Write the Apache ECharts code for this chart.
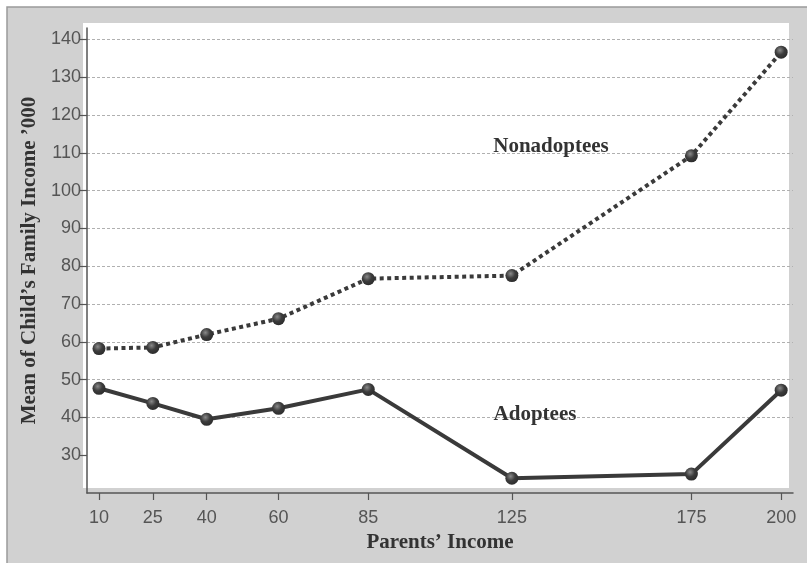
<!DOCTYPE html>
<html>
<head>
<meta charset="utf-8">
<script src="https://cdn.jsdelivr.net/npm/echarts@6/dist/echarts.min.js"></script>
<style>html,body{margin:0;padding:0;background:#fff;}#c{width:807px;height:563px;}</style>
</head>
<body>
<div id="c"></div>
<script>
const parentsIncome = [10, 25, 40, 60, 85, 125, 175, 200];
const nonadoptees = [58.2, 58.5, 61.9, 66.1, 76.7, 77.5, 109.2, 136.6];
const adoptees = [47.7, 43.7, 39.5, 42.4, 47.4, 23.9, 25.0, 47.2];
const yTicks = [30, 40, 50, 60, 70, 80, 90, 100, 110, 120, 130, 140];
const xTicks = [10, 25, 40, 60, 85, 125, 175, 200];

const chart = echarts.init(document.getElementById('c'));
const serif = '"Liberation Serif", "DejaVu Serif", serif';
const sans = '"Liberation Sans", Arial, sans-serif';
const lineColor = '#3a3a3a';
const marker = {
  type: 'radial', x: 0.4, y: 0.35, r: 0.7,
  colorStops: [{offset: 0, color: '#8a8a8a'}, {offset: 0.5, color: '#3c3c3c'}, {offset: 1, color: '#2a2a2a'}]
};

chart.setOption({
  animation: false,
  backgroundColor: '#ffffff',
  graphic: [
    {type: 'rect', z: -100, shape: {x: 7, y: 7, width: 810, height: 570}, style: {fill: '#d1d1d1', stroke: '#9a9a9a', lineWidth: 1.5}},
    {type: 'rect', z: -90, shape: {x: 83, y: 23, width: 706, height: 465}, style: {fill: '#ffffff'}},
    {type: 'text', z: 100, x: 551, y: 147, style: {text: 'Nonadoptees', font: 'bold 21px ' + serif, fill: '#333', align: 'center', verticalAlign: 'middle'}},
    {type: 'text', z: 100, x: 535, y: 415, style: {text: 'Adoptees', font: 'bold 21px ' + serif, fill: '#333', align: 'center', verticalAlign: 'middle'}}
  ],
  grid: {left: 87, top: 28, right: 14, bottom: 70, containLabel: false},
  xAxis: {
    type: 'value', min: 6.66, max: 203.3,
    name: 'Parents\u2019 Income', nameLocation: 'middle', nameGap: 38,
    nameTextStyle: {fontFamily: serif, fontWeight: 'bold', fontSize: 21, color: '#333'},
    axisLine: {show: true, lineStyle: {color: '#555', width: 1.5}},
    axisTick: {show: true, customValues: xTicks, length: 7, lineStyle: {color: '#555', width: 1.2}},
    axisLabel: {customValues: xTicks, margin: 16, fontFamily: sans, fontSize: 18, color: '#555'},
    splitLine: {show: false}
  },
  yAxis: {
    type: 'value', min: 20, max: 143, interval: 10,
    name: 'Mean of Child\u2019s Family Income \u2019000', nameLocation: 'middle', nameGap: 40,
    nameTextStyle: {fontFamily: serif, fontWeight: 'bold', fontSize: 21, color: '#333'},
    axisLine: {show: true, lineStyle: {color: '#555', width: 1.5}},
    axisTick: {show: true, customValues: yTicks, length: 7, lineStyle: {color: '#555', width: 1.2}},
    axisLabel: {customValues: yTicks, margin: 6, fontFamily: sans, fontSize: 18, color: '#555'},
    splitLine: {show: true, showMinLine: false, lineStyle: {color: '#b0b0b0', width: 1, type: [3, 2]}}
  },
  series: [
    {
      name: 'Nonadoptees', type: 'line',
      data: parentsIncome.map((x, i) => [x, nonadoptees[i]]),
      symbol: 'circle', symbolSize: 13,
      lineStyle: {color: lineColor, width: 4, type: [4, 3.5]},
      itemStyle: {color: marker, borderWidth: 0}
    },
    {
      name: 'Adoptees', type: 'line',
      data: parentsIncome.map((x, i) => [x, adoptees[i]]),
      symbol: 'circle', symbolSize: 13,
      lineStyle: {color: lineColor, width: 4},
      itemStyle: {color: marker, borderWidth: 0}
    }
  ]
});
</script>
</body>
</html>
